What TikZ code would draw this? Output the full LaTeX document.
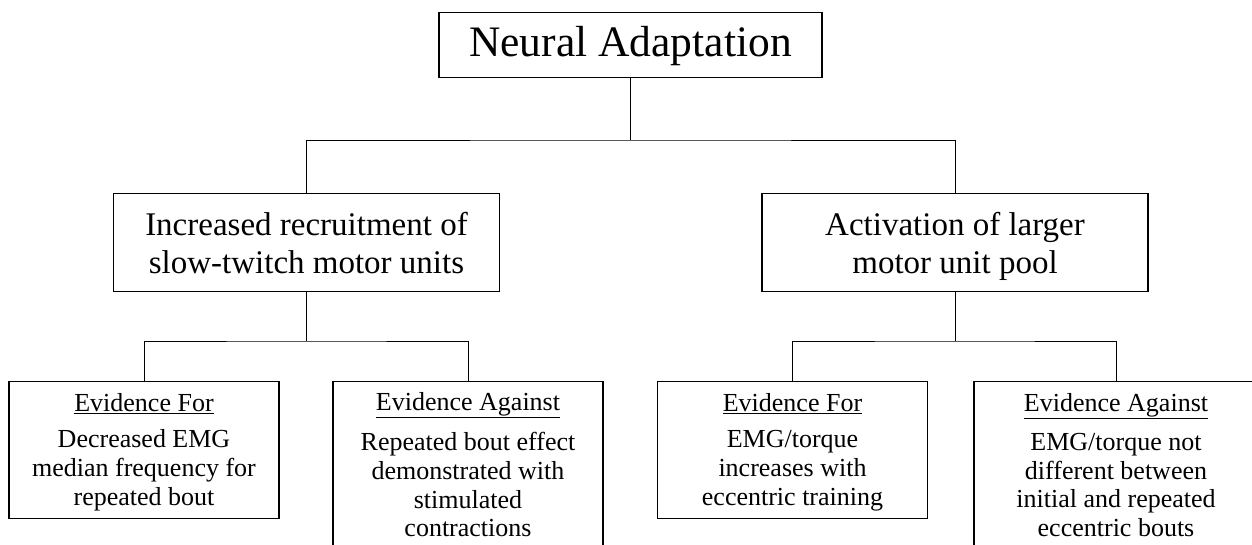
\documentclass[tikz,border=0pt]{standalone}
\usepackage{fontspec}
\setmainfont{Liberation Serif}
\newcommand\mytop[1]{\rule{0pt}{#1}}
\newcommand\mybot[1]{\rule[-#1]{0pt}{0pt}}
\begin{document}
\begin{tikzpicture}[x=1pt,y=-1pt,
  box/.style={draw, line width=1.3pt, inner sep=0pt, align=center, anchor=north},
  topbox/.style={box, minimum width=383pt, font=\fontsize{43.5}{50}\selectfont},
  midbox/.style={box, minimum width=386pt, font=\fontsize{33}{38}\selectfont},
  evbox/.style={box, minimum width=270pt, font=\fontsize{26}{28.7}\selectfont},
  conn/.style={line width=0.9pt}]
\useasboundingbox (0,0) rectangle (1252,544);
\node[topbox] (top) at (630.5,12) {\rule[-21pt]{0pt}{65pt}Neural Adaptation};
\node[midbox] (mid1) at (306.5,193) {\mytop{42pt}Increased recruitment of\\slow-twitch motor units\mybot{18pt}};
\node[midbox] (mid2) at (955,193) {\mytop{42pt}Activation of larger\\motor unit pool\mybot{18pt}};
\node[evbox] (b1) at (144,381) {\mytop{30pt}\underline{Evidence For}\\[7.3pt]Decreased EMG\\median frequency for\\repeated bout\mybot{13.6pt}};
\node[evbox] (b2) at (468,381) {\mytop{29pt}\underline{Evidence Against}\\[11.3pt]Repeated bout effect\\demonstrated with\\stimulated\\contractions\mybot{14pt}};
\node[evbox] (b3) at (792.5,381) {\mytop{30pt}\underline{Evidence For}\\[7.3pt]EMG/torque\\increases with\\eccentric training\mybot{13.6pt}};
\node[evbox, minimum width=284pt] (b4) at (1116,381) {\mytop{29.5pt}\underline{Evidence Against}\\[10.5pt]EMG/torque not\\different between\\initial and repeated\\eccentric bouts\mybot{14pt}};
\coordinate (j0) at (630.5,140);
\coordinate (j1) at (306.5,341);
\coordinate (j2) at (955,341);
\draw[conn] (top.south) -- (j0);
\draw[conn] (mid1.north) |- (j0) -| (mid2.north);
\draw[conn] (mid1.south) -- (j1);
\draw[conn] (b1.north) |- (j1) -| (b2.north);
\draw[conn] (mid2.south) -- (j2);
\draw[conn] (b3.north) |- (j2) -| (b4.north);
\end{tikzpicture}
\end{document}
